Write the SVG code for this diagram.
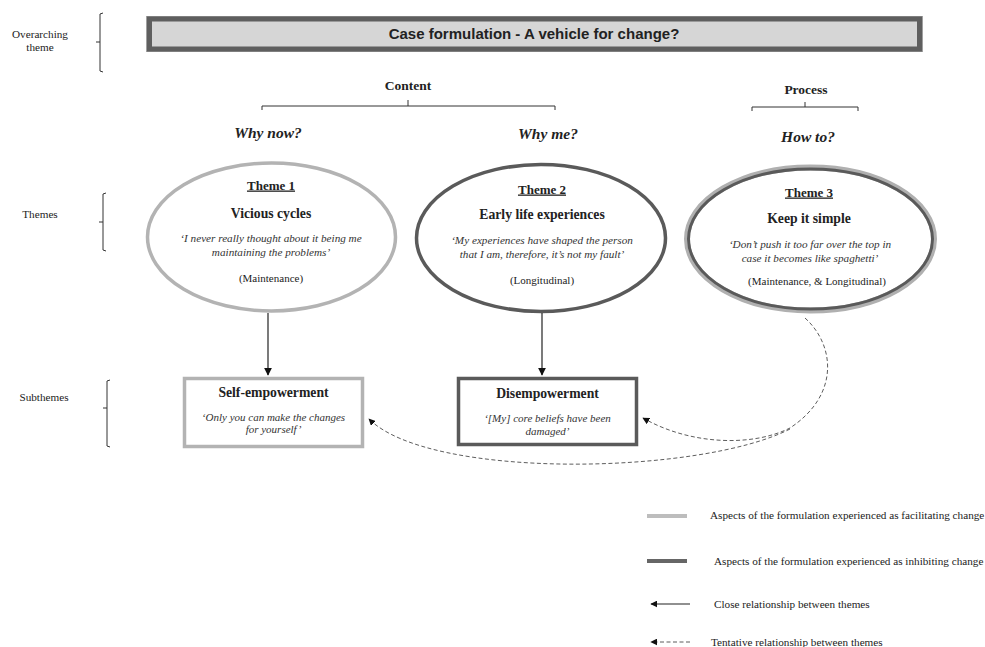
<svg xmlns="http://www.w3.org/2000/svg" width="985" height="647" viewBox="0 0 985 647">
<style>
.serif{font-family:"Liberation Serif","Times New Roman",serif;fill:#222}
.lbl{font-size:11.2px}
.hd{font-size:13.5px;font-weight:bold}
.q{font-size:15.5px;font-weight:bold;font-style:italic}
.th{font-size:13px;font-weight:bold;text-decoration:underline}
.nm{font-size:13.7px;font-weight:bold}
.it{font-size:11.2px;font-style:italic;fill:#333}
.bq{font-size:11px;font-style:italic;fill:#333}
.pl{font-size:11px}
.br{fill:none;stroke:#333;stroke-width:1}
.solid{fill:none;stroke:#222;stroke-width:1.2}
.dash{fill:none;stroke:#333;stroke-width:0.8;stroke-dasharray:4,2.5}
</style>
<defs>
<marker id="ah" viewBox="0 0 10 10" refX="9" refY="5" markerWidth="8" markerHeight="8" markerUnits="userSpaceOnUse" orient="auto">
<path d="M0,0 L10,5 L0,10 z" fill="#111"/>
</marker>
<marker id="ahs" viewBox="0 0 10 10" refX="9" refY="5" markerWidth="7" markerHeight="7" markerUnits="userSpaceOnUse" orient="auto">
<path d="M0,0 L10,5 L0,10 z" fill="#111"/>
</marker>
</defs>
<rect width="985" height="647" fill="#fff"/>

<g id="level-labels">
<text class="serif lbl" x="40" y="38" text-anchor="middle">Overarching</text>
<text class="serif lbl" x="40" y="51" text-anchor="middle">theme</text>
<path class="br" d="M103,13 L100,14 L100,71 L103,72 M100,42 L96,42"/>
<text class="serif lbl" x="40" y="218" text-anchor="middle">Themes</text>
<path class="br" d="M106,193 L103,194 L103,250 L106,251 M103,222 L99,222"/>
<text class="serif lbl" x="44" y="401" text-anchor="middle">Subthemes</text>
<path class="br" d="M110,380 L107,381 L107,446 L110,447 M107,408 L103,408"/>
</g>

<g id="title">
<rect x="146" y="16" width="777" height="36" fill="#a0a0a0"/>
<rect x="149.5" y="19" width="770" height="30" fill="#d6d6d6" stroke="#5f5f5f" stroke-width="5"/>
<text x="534" y="39" text-anchor="middle" font-family="Liberation Sans, Arial, sans-serif" font-size="15" font-weight="bold" fill="#222">Case formulation - A vehicle for change?</text>
</g>

<g id="content-header">
<text class="serif hd" x="408" y="90" text-anchor="middle">Content</text>
<path class="br" d="M262,110 L262,106 L555,106 L555,110 M408,106 L408,100"/>
</g>
<g id="process-header">
<text class="serif hd" x="806" y="94" text-anchor="middle">Process</text>
<path class="br" d="M752,111 L752,107 L858,107 L858,111 M805,107 L805,102"/>
</g>

<g id="questions">
<text class="serif q" x="268" y="137.5" text-anchor="middle">Why now?</text>
<text class="serif q" x="548" y="138.5" text-anchor="middle">Why me?</text>
<text class="serif q" x="808" y="141.5" text-anchor="middle">How to?</text>
</g>

<g id="theme1">
<ellipse cx="271.5" cy="237" rx="124" ry="74" fill="#fff" stroke="#b3b3b3" stroke-width="3.5"/>
<text class="serif th" x="271" y="189.5" text-anchor="middle">Theme 1</text>
<text class="serif nm" x="271" y="217.5" text-anchor="middle">Vicious cycles</text>
<text class="serif it" x="271" y="241.5" text-anchor="middle">‘I never really thought about it being me</text>
<text class="serif it" x="271" y="255.5" text-anchor="middle">maintaining the problems’</text>
<text class="serif pl" x="271" y="281.5" text-anchor="middle">(Maintenance)</text>
</g>

<g id="theme2">
<ellipse cx="541" cy="238" rx="124.5" ry="73.5" fill="#fff" stroke="#5a5a5a" stroke-width="3.5"/>
<text class="serif th" x="542" y="193.5" text-anchor="middle">Theme 2</text>
<text class="serif nm" x="542" y="218.5" text-anchor="middle">Early life experiences</text>
<text class="serif it" x="542" y="243.5" text-anchor="middle">‘My experiences have shaped the person</text>
<text class="serif it" x="542" y="257.5" text-anchor="middle">that I am, therefore, it’s not my fault’</text>
<text class="serif pl" x="542" y="283.5" text-anchor="middle">(Longitudinal)</text>
</g>

<g id="theme3">
<ellipse cx="810.5" cy="239" rx="123.5" ry="71.5" fill="#fff" stroke="#b0b0b0" stroke-width="6"/>
<ellipse cx="810.5" cy="239" rx="122" ry="70" fill="none" stroke="#5a5a5a" stroke-width="3"/>
<text class="serif th" x="809" y="196.5" text-anchor="middle">Theme 3</text>
<text class="serif nm" x="809" y="222.5" text-anchor="middle">Keep it simple</text>
<text class="serif it" x="810" y="247.5" text-anchor="middle">‘Don’t push it too far over the top in</text>
<text class="serif it" x="810" y="261.5" text-anchor="middle">case it becomes like spaghetti’</text>
<text class="serif pl" x="817" y="284.5" text-anchor="middle">(Maintenance, &amp; Longitudinal)</text>
</g>

<g id="subtheme1">
<rect x="184.5" y="378.5" width="178" height="68" fill="#fff" stroke="#b3b3b3" stroke-width="3.5"/>
<text class="serif nm" x="273.5" y="396.5" text-anchor="middle">Self-empowerment</text>
<text class="serif bq" x="273.5" y="421" text-anchor="middle">‘Only you can make the changes</text>
<text class="serif bq" x="273.5" y="433" text-anchor="middle">for yourself’</text>
</g>

<g id="subtheme2">
<rect x="458.5" y="378.5" width="178" height="66" fill="#fff" stroke="#5a5a5a" stroke-width="3.5"/>
<text class="serif nm" x="547.5" y="397.5" text-anchor="middle">Disempowerment</text>
<text class="serif bq" x="547.5" y="421.5" text-anchor="middle">‘[My] core beliefs have been</text>
<text class="serif bq" x="547.5" y="434.5" text-anchor="middle">damaged’</text>
</g>

<g id="connectors">
<path class="solid" d="M268,313 L268,375" marker-end="url(#ah)"/>
<path class="solid" d="M542,313 L542,375" marker-end="url(#ah)"/>
<path class="dash" d="M805,318 C835,345 840,395 790,428 C752,447 690,445 643,418" marker-end="url(#ahs)"/>
<path class="dash" d="M790,429 C700,475 430,480 369,419" marker-end="url(#ahs)"/>
</g>

<g id="legend">
<line x1="647" y1="516" x2="687" y2="516" stroke="#bdbdbd" stroke-width="4"/>
<text class="serif lbl" x="710" y="519">Aspects of the formulation experienced as facilitating change</text>
<line x1="647" y1="561" x2="687" y2="561" stroke="#666" stroke-width="4"/>
<text class="serif lbl" x="714" y="564.5">Aspects of the formulation experienced as inhibiting change</text>
<path class="solid" d="M690,604 L651,604" marker-end="url(#ahs)"/>
<text class="serif lbl" x="714" y="607.5">Close relationship between themes</text>
<path class="dash" d="M690,642 L651,642" marker-end="url(#ahs)"/>
<text class="serif lbl" x="711" y="645.5">Tentative relationship between themes</text>
</g>
</svg>
